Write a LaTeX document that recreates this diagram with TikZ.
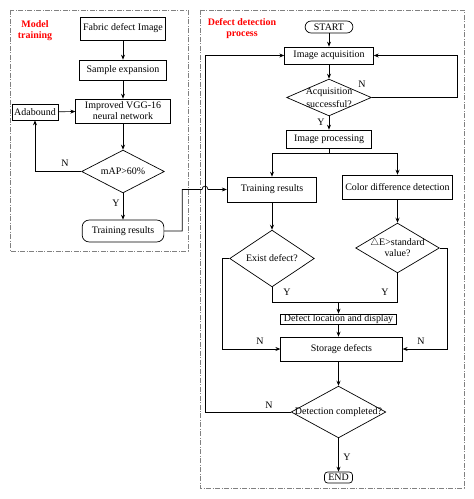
\documentclass[tikz,border=0pt]{standalone}
\usepackage{fontspec}
\setmainfont{Liberation Serif}
\usepackage{amssymb}
\usetikzlibrary{shapes.geometric,arrows.meta}

\begin{document}
\begin{tikzpicture}[x=1bp,y=-1bp,line width=0.7pt,
  every node/.style={font=\fontsize{10}{11}\selectfont},
  box/.style={draw,rectangle,inner sep=0pt,align=center},
  rbox/.style={box,rounded corners=7pt},
  dec/.style={draw,diamond,inner sep=0pt},
  arr/.style={-{Stealth[length=5pt,width=4pt]}},
  frame/.style={draw=gray,line width=0.6pt,dash pattern=on 5pt off 1.5pt on 1pt off 1.5pt},
  ttl/.style={text=red,font=\fontsize{10}{11}\selectfont\bfseries,align=center}]
\useasboundingbox (0,0) rectangle (474,499);
\draw[frame] (10,10) rectangle (188,251);
\draw[frame] (200,10) rectangle (464,488);
\node[ttl] (tmodel) at (35,30.5) {Model\\training};
\node[ttl] (tdetect) at (242,28.5) {Defect detection\\process};

\node[box,minimum width=86,minimum height=23] (img) at (123,28.5) {Fabric defect Image};
\node[box,minimum width=88,minimum height=20] (samp) at (123,70) {Sample expansion};
\node[box,minimum width=95,minimum height=24] (vgg) at (123,111) {Improved VGG-16\\neural network};
\node[box,minimum width=46,minimum height=16] (ada) at (35,112) {Adabound};
\node[dec,minimum width=83,minimum height=43,label=center:{mAP>60\%}] (map) at (123,171.5) {};
\node[rbox,minimum width=82,minimum height=22] (resL) at (123,231) {Training results};

\node[rbox,rounded corners=6pt,minimum width=48,minimum height=12] (start) at (329,27) {START};
\node[box,minimum width=89,minimum height=17] (acq) at (329,55.5) {Image acquisition};
\node[dec,minimum width=85,minimum height=37,label={[align=center,font=\fontsize{10}{13}\selectfont]center:Acquisition\\successful?}] (acqok) at (329,97.5) {};
\node[box,minimum width=85,minimum height=18] (proc) at (329,139) {Image processing};
\node[box,minimum width=90,minimum height=25] (resR) at (272,189.5) {Training results};
\node[box,minimum width=111,minimum height=24] (color) at (397.5,187) {Color difference detection};
\node[dec,minimum width=85,minimum height=57,label=center:{Exist defect?}] (exist) at (272,258.5) {};
\node[dec,minimum width=84,minimum height=50,label={[align=center]center:$\triangle$E>standard\\value?}] (dE) at (397.5,248) {};
\node[box,minimum width=117,minimum height=10,inner ysep=0pt,text height=7pt,text depth=2pt] (loc) at (338.5,319) {Defect location and display};
\node[box,minimum width=122,minimum height=24] (store) at (341.5,349) {Storage defects};
\node[dec,minimum width=95,minimum height=52,label=center:{Detection completed?}] (done) at (338.5,412) {};
\node[rbox,rounded corners=3pt,minimum width=28,minimum height=11] (fin) at (338.5,477.5) {END};

\draw[arr] (img) -- (samp);
\draw[arr] (samp) -- (vgg);
\draw[arr] (ada) -- (vgg);
\draw[arr] (vgg.south) -- (map.north);
\draw[arr] (map.west) -| (ada.south);
\draw[arr] (map.south) -- (resL.north);
\draw[arr] (resL.east) -- ++(18,0) |- (202,189.5) .. controls (202,185) and (208,185) .. (208,189.5) -- (resR.west);

\draw[arr] (start) -- (acq);
\draw[arr] (acq.south) -- (acqok.north);
\draw[arr] (acqok.east) -- (457,97.5) |- (acq.east);
\draw[arr] (acqok.south) -- (proc.north);
\draw (proc.south) -- ++(0,5) coordinate (fork);
\draw[arr] (fork) -| (resR.north);
\draw[arr] (fork) -| (color.north);
\draw[arr] (resR.south) -- (exist.north);
\draw[arr] (color.south) -- (dE.north);
\draw (exist.south) -- ++(0,15) coordinate (merge) -| (dE.south);
\draw[arr] (loc.north |- merge) -- (loc.north);
\draw[arr] (loc.south) -- (loc.south |- store.north);
\draw[arr] (exist.west) -- (222,258.5) |- (store.west);
\draw[arr] (dE.east) -- (447,248) |- (store.east);
\draw[arr] (done.north |- store.south) -- (done.north);
\draw[arr] (done.west) -- (205,412) |- (acq.west);
\draw[arr] (done.south) -- (fin.north);

\node (nmap) at (65,163) {N};
\node (ymap) at (116,203) {Y};
\node (nacq) at (362,84) {N};
\node (yacq) at (321,122) {Y};
\node (yex) at (287,292) {Y};
\node (ydE) at (385,292) {Y};
\node (nex) at (260,341) {N};
\node (ndE) at (421,341) {N};
\node (ndone) at (269,405) {N};
\node (ydone) at (347,457) {Y};
\end{tikzpicture}
\end{document}
